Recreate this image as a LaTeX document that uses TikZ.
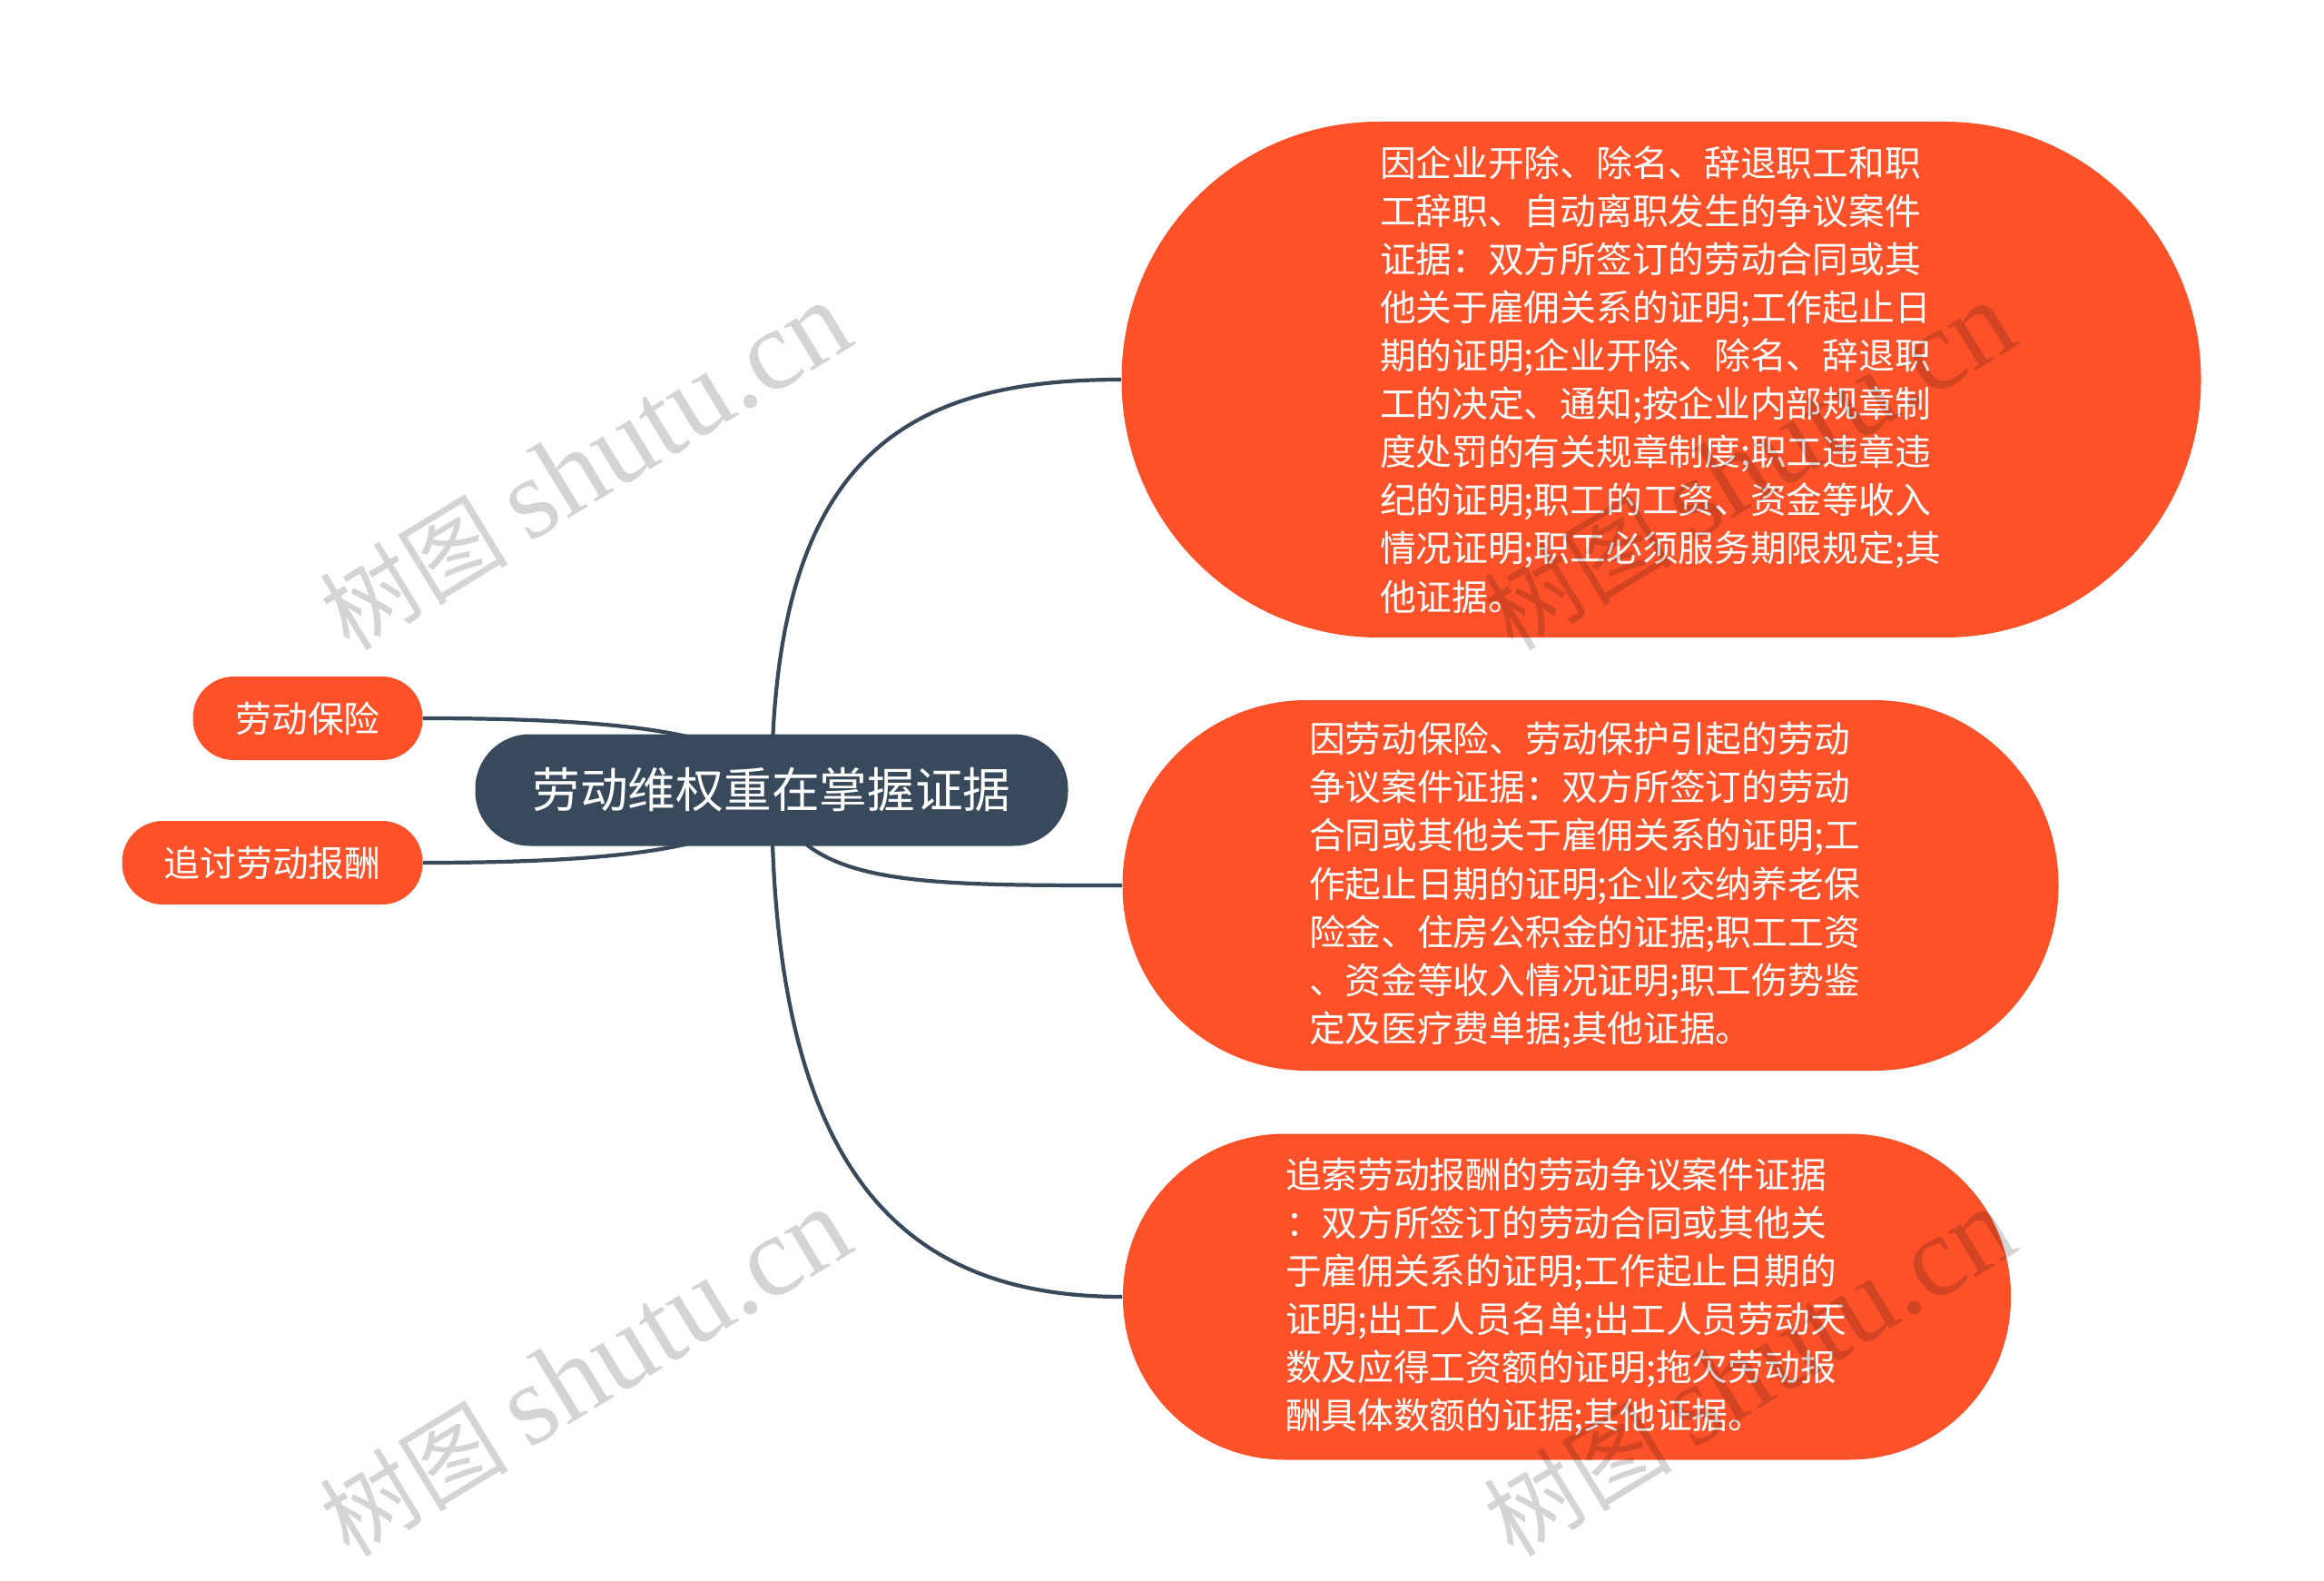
\documentclass[tikz,border=0pt]{standalone}
\usepackage{fontspec}
\setmainfont{Noto Sans CJK SC}
\newfontfamily\wmlatin{Liberation Serif}
\usetikzlibrary{positioning, backgrounds}

\definecolor{topicred}{RGB}{253,82,41}
\definecolor{rootblue}{RGB}{55,73,90}

\begin{document}
\begin{tikzpicture}[
  central/.style={fill=rootblue, text=white, font=\fontsize{15}{18}\selectfont, minimum width=6.53cm, minimum height=1.23cm, rounded corners=0.6cm, inner sep=0pt},
  topic/.style={fill=topicred, text=white, font=\fontsize{11.3}{15.1}\selectfont, inner sep=0pt},
  detail/.style={topic, text width=6.2cm, align=left},
  branch/.style={draw=rootblue, line width=1.2pt},
  watermark/.style={text=black, text opacity=0.17, rotate=31.4, font=\fontsize{29.5}{30}\selectfont, inner sep=0pt}
]
\useasboundingbox (0,0) rectangle (25.6,-17.41);

% Central topic
\node[central] (root) at (8.50,-8.70) {劳动维权重在掌握证据};

% Left topics
\node[topic, minimum width=2.53cm, minimum height=0.92cm, rounded corners=0.45cm] (insurance) at (3.39,-7.91) {劳动保险};
\node[topic, minimum width=3.31cm, minimum height=0.92cm, rounded corners=0.45cm] (payment) at (3.00,-9.50) {追讨劳动报酬};

% Right topics
\node[detail, minimum width=11.89cm, minimum height=5.68cm, rounded corners=2.83cm] (dismissal) at (18.30,-4.18) {因企业开除、除名、辞退职工和职\\工辞职、自动离职发生的争议案件\\证据：双方所签订的劳动合同或其\\他关于雇佣关系的证明;工作起止日\\期的证明;企业开除、除名、辞退职\\工的决定、通知;按企业内部规章制\\度处罚的有关规章制度;职工违章违\\纪的证明;职工的工资、资金等收入\\情况证明;职工必须服务期限规定;其\\他证据。};
\node[detail, minimum width=10.31cm, minimum height=4.08cm, rounded corners=2.03cm] (protection) at (17.52,-9.75) {因劳动保险、劳动保护引起的劳动\\争议案件证据：双方所签订的劳动\\合同或其他关于雇佣关系的证明;工\\作起止日期的证明;企业交纳养老保\\险金、住房公积金的证据;职工工资\\、资金等收入情况证明;职工伤势鉴\\定及医疗费单据;其他证据。};
\node[detail, minimum width=9.78cm, minimum height=3.59cm, rounded corners=1.78cm] (remuneration) at (17.26,-14.28) {追索劳动报酬的劳动争议案件证据\\：双方所签订的劳动合同或其他关\\于雇佣关系的证明;工作起止日期的\\证明;出工人员名单;出工人员劳动天\\数及应得工资额的证明;拖欠劳动报\\酬具体数额的证据;其他证据。};

% Branches
\begin{scope}[on background layer]
\draw[branch] (root.center) .. controls +(0,3.7) and +(-2.36,0) .. (dismissal.west);
\draw[branch] (root.center) .. controls +(0.29,-1.05) and +(-2.36,0) .. (protection.west);
\draw[branch] (root.center) .. controls +(0,-4.3) and +(-2.36,0) .. (remuneration.west);
\draw[branch] (insurance.east) .. controls +(2.5,0) and +(-0.16,0.58) .. (root.center);
\draw[branch] (payment.east) .. controls +(2.5,0) and +(-0.16,-0.58) .. (root.center);
\end{scope}

% Watermarks
\node[watermark] (wm1) at (6.45,-5.14) {树图 {\wmlatin\fontsize{36}{36}\selectfont shutu.cn}};
\node[watermark] (wm2) at (6.45,-15.12) {树图 {\wmlatin\fontsize{36}{36}\selectfont shutu.cn}};
\node[watermark] (wm3) at (19.27,-5.14) {树图 {\wmlatin\fontsize{36}{36}\selectfont shutu.cn}};
\node[watermark] (wm4) at (19.27,-15.12) {树图 {\wmlatin\fontsize{36}{36}\selectfont shutu.cn}};
\end{tikzpicture}
\end{document}
